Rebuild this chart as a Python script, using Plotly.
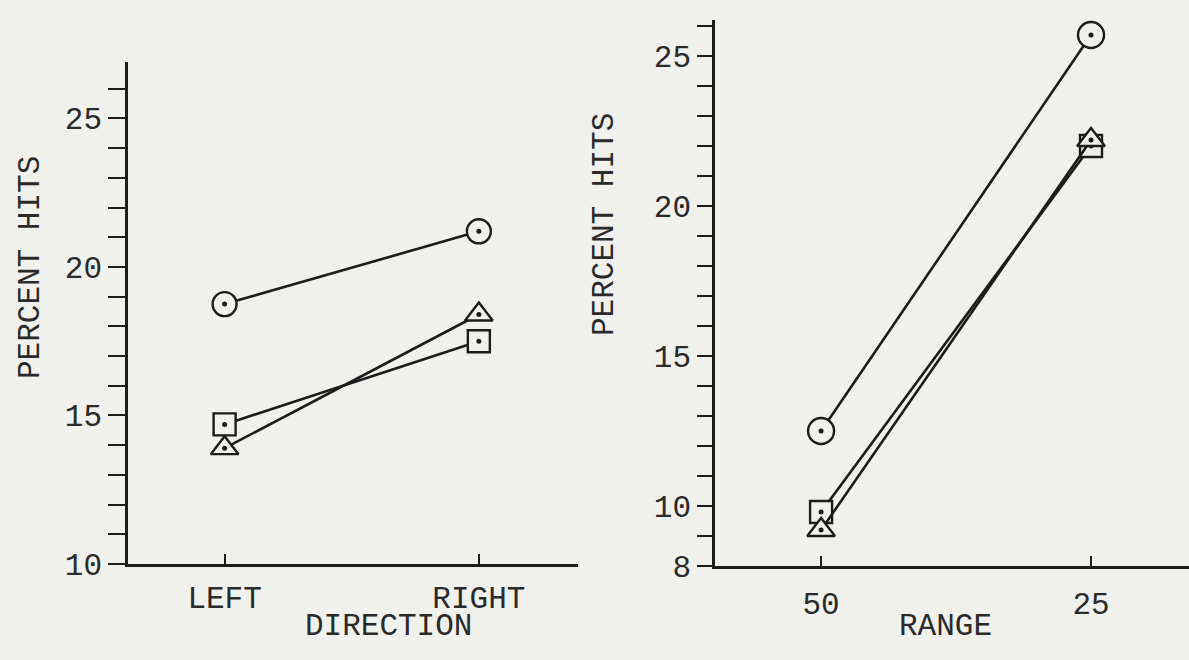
import plotly.graph_objects as go

# ---- data ----
direction_cats = ["LEFT", "RIGHT"]
dir_circle = [18.75, 21.2]
dir_triangle = [13.9, 18.4]
dir_square = [14.7, 17.5]

range_cats = ["50", "25"]
rng_circle = [12.5, 25.7]
rng_triangle = [9.2, 22.2]
rng_square = [9.8, 22.0]

left_yticks = [10, 15, 20, 25]
right_yticks = [8, 10, 15, 20, 25]

BG = "#f0f1ed"
INK = "#1c1c1c"
FONT = "Liberation Mono"

fig = go.Figure()

def add_series(x, y, symbol, size, xa, ya):
    fig.add_trace(go.Scatter(
        x=x, y=y, mode="lines+markers", xaxis=xa, yaxis=ya,
        line=dict(color=INK, width=2.6),
        marker=dict(symbol=symbol, size=size, color=BG,
                    line=dict(color=INK, width=2.4)),
        showlegend=False, cliponaxis=False))
    # centre dot of each typed marker
    fig.add_trace(go.Scatter(
        x=x, y=y, mode="markers", xaxis=xa, yaxis=ya,
        marker=dict(symbol="circle", size=5, color=INK),
        showlegend=False, cliponaxis=False, hoverinfo="skip"))

add_series(direction_cats, dir_square, "square", 22, "x", "y")
add_series(direction_cats, dir_triangle, "triangle-up", 24, "x", "y")
add_series(direction_cats, dir_circle, "circle", 24, "x", "y")
add_series(range_cats, rng_square, "square", 22, "x2", "y2")
add_series(range_cats, rng_triangle, "triangle-up", 24, "x2", "y2")
add_series(range_cats, rng_circle, "circle", 26, "x2", "y2")

W, H = 1189, 640
def px(x): return x / W
def py(y): return 1 - y / H

tickfont = dict(family=FONT, size=31, color="#2a2a2a")

fig.update_layout(
    autosize=True, paper_bgcolor=BG, plot_bgcolor=BG,
    margin=dict(l=0, r=0, t=0, b=0),
    font=dict(family=FONT, size=31, color="#2a2a2a"),
    xaxis=dict(domain=[px(128), px(578)], type="category",
               categoryorder="array", categoryarray=direction_cats,
               range=[-0.38, 1.39], showgrid=False, zeroline=False,
               showline=True, linecolor=INK, linewidth=2.6,
               ticks="inside", ticklen=10, tickwidth=2, tickcolor=INK,
               ticklabelstandoff=4,
               tickfont=tickfont, anchor="y"),
    yaxis=dict(domain=[py(564), py(62)], range=[10, 26.9],
               tickvals=left_yticks, showgrid=False, zeroline=False,
               showline=True, linecolor=INK, linewidth=2.6,
               ticks="outside", ticklen=17, tickwidth=2, tickcolor=INK,
               minor=dict(dtick=1, tick0=0, ticks="outside", ticklen=17,
                          tickwidth=2, tickcolor=INK, showgrid=False),
               tickfont=tickfont, anchor="x"),
    xaxis2=dict(domain=[px(715), 1.0], type="category",
                categoryorder="array", categoryarray=range_cats,
                range=[-0.393, 1.363], showgrid=False, zeroline=False,
                showline=True, linecolor=INK, linewidth=2.6,
                ticks="inside", ticklen=10, tickwidth=2, tickcolor=INK,
                ticklabelstandoff=8,
                tickfont=tickfont, anchor="y2"),
    yaxis2=dict(domain=[py(566), py(20)], range=[8, 26.2],
                tickvals=right_yticks, showgrid=False, zeroline=False,
                showline=True, linecolor=INK, linewidth=2.6,
                ticks="outside", ticklen=15, tickwidth=2, tickcolor=INK,
                minor=dict(dtick=1, tick0=0, ticks="outside", ticklen=15,
                           tickwidth=2, tickcolor=INK, showgrid=False),
                tickfont=tickfont, anchor="x2"),
)

ann_font = dict(family=FONT, size=31, color="#2a2a2a")
def label(text, x, y, angle=0):
    fig.add_annotation(text=text, textangle=angle, x=px(x), y=py(y),
                       xref="paper", yref="paper", xanchor="center",
                       yanchor="middle", showarrow=False, font=ann_font)

label("PERCENT HITS", 30, 268, -90)
label("DIRECTION", 388, 626)
label("PERCENT HITS", 604, 225, -90)
label("RANGE", 945, 626)

fig.write_html(
    "out.html",
    config={"displayModeBar": False, "responsive": True},
    default_width="100vw", default_height="100vh",
    post_script="document.documentElement.style.margin='0';"
                "document.body.style.margin='0';"
                "document.body.style.background='#f0f1ed';"
                "document.documentElement.style.overflow='hidden';"
                "document.body.style.overflow='hidden';"
                "Plotly.Plots.resize(document.getElementById('{plot_id}'));")
